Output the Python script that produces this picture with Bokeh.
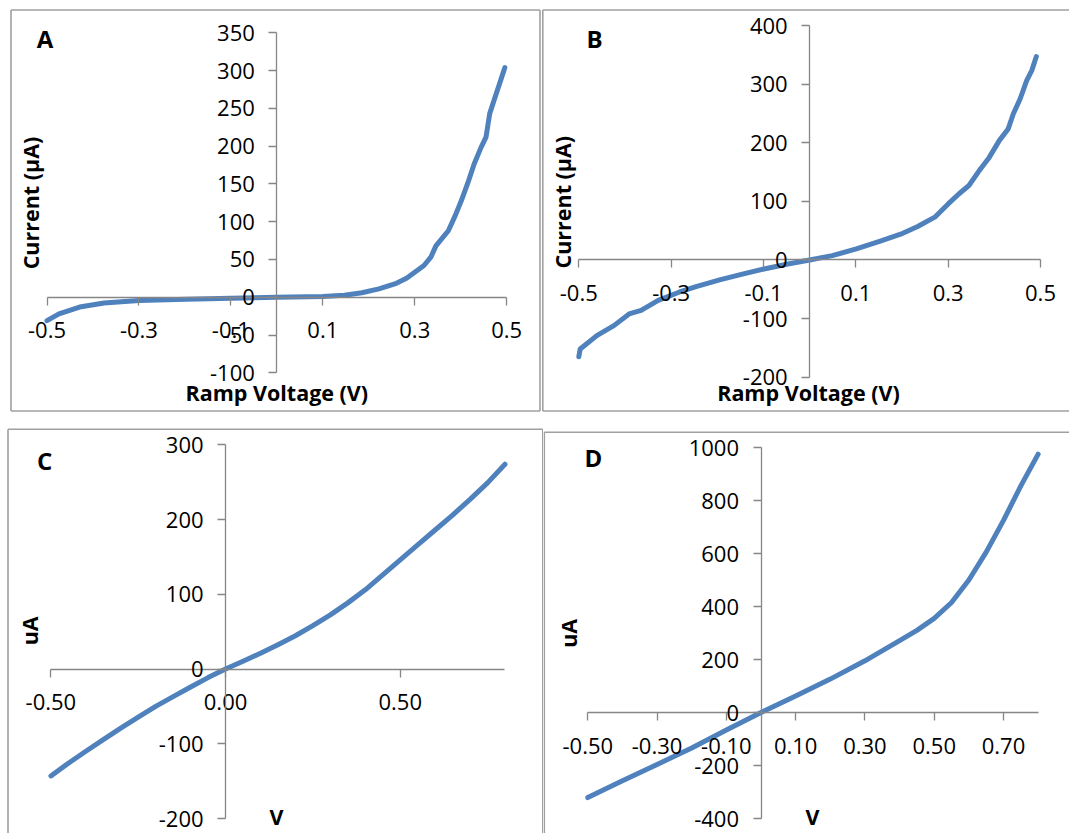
import math
from bokeh.plotting import figure
from bokeh.layouts import row, column
from bokeh.models import Range1d, FixedTicker, Label, Arrow
from bokeh.embed import file_html
from bokeh.resources import INLINE

# ---------------- data ----------------
a_voltage = [-0.50, -0.474, -0.429, -0.376, -0.30, -0.197, -0.10, 0.0, 0.10, 0.147,
             0.185, 0.222, 0.26, 0.282, 0.30, 0.32, 0.335, 0.346, 0.373, 0.388,
             0.402, 0.417, 0.429, 0.444, 0.455, 0.463, 0.477, 0.489, 0.496]
a_current = [-31, -22, -13, -7.5, -4.4, -2.6, -1.3, 0, 1, 2.6,
             6, 11, 18.5, 25, 33, 42, 53, 68, 88, 108,
             129, 154, 176, 198, 212, 243, 269, 291, 304]

b_voltage = [-0.500, -0.497, -0.461, -0.424, -0.391, -0.365, -0.328, -0.283, -0.246, -0.195,
             -0.150, -0.099, -0.047, 0.0, 0.049, 0.101, 0.153, 0.197, 0.234, 0.271,
             0.300, 0.323, 0.345, 0.367, 0.389, 0.411, 0.430, 0.441, 0.456, 0.470,
             0.481, 0.491]
b_current = [-165, -152, -129, -112, -92, -86, -69, -55, -45.5, -34,
             -25, -15.4, -6.8, 0, 7.4, 18.8, 32, 44, 57, 73,
             95.6, 112.6, 127, 152, 175, 204, 223.6, 249, 275, 306,
             323, 347]

c_voltage = [-0.50, -0.45, -0.40, -0.35, -0.30, -0.25, -0.20, -0.15, -0.10, -0.05,
             0.0, 0.05, 0.10, 0.15, 0.20, 0.25, 0.30, 0.35, 0.40, 0.45,
             0.50, 0.55, 0.60, 0.65, 0.70, 0.75, 0.80]
c_current = [-143, -126, -110, -94.5, -79, -64.5, -50, -37, -24, -11.5,
             0, 10.5, 21, 32.5, 44.5, 58, 72.5, 88.5, 106, 126,
             146, 166, 186, 206, 227, 249, 274]

d_voltage = [-0.50, -0.40, -0.30, -0.20, -0.10, 0.0, 0.10, 0.20, 0.30, 0.40,
             0.45, 0.50, 0.55, 0.60, 0.65, 0.70, 0.75, 0.80]
d_current = [-321, -258, -196, -134, -66, 0, 62, 126, 195, 271,
             310, 355, 415, 500, 605, 725, 855, 975]

# tick values and labels
ab_x_ticks = [-0.5, -0.3, -0.1, 0.1, 0.3, 0.5]
ab_x_labels = ["-0.5", "-0.3", "-0.1", "0.1", "0.3", "0.5"]
a_y_ticks = [-100, -50, 0, 50, 100, 150, 200, 250, 300, 350]
a_y_labels = ["-100", "-50", "0", "50", "100", "150", "200", "250", "300", "350"]
b_y_ticks = [-200, -100, 0, 100, 200, 300, 400]
b_y_labels = ["-200", "-100", "0", "100", "200", "300", "400"]
c_x_ticks = [-0.5, 0.0, 0.5]
c_x_labels = ["-0.50", "0.00", "0.50"]
c_y_ticks = [-200, -100, 0, 100, 200, 300]
c_y_labels = ["-200", "-100", "0", "100", "200", "300"]
d_x_ticks = [-0.5, -0.3, -0.1, 0.1, 0.3, 0.5, 0.7]
d_x_labels = ["-0.50", "-0.30", "-0.10", "0.10", "0.30", "0.50", "0.70"]
d_y_ticks = [-400, -200, 0, 200, 400, 600, 800, 1000]
d_y_labels = ["-400", "-200", "0", "200", "400", "600", "800", "1000"]

titles = ["A", "B", "C", "D"]
xtitle_ab = "Ramp Voltage (V)"
ytitle_ab = "Current (\u00b5A)"
xtitle_cd = "V"
ytitle_cd = "uA"

# ---------------- styling ----------------
LINE_COLOR = "#4F81BD"
AXIS_COLOR = "#868686"
BORDER_COLOR = "#a0a0a0"
FONT = "Open Sans"
TICK_SIZE = "22px"
TITLE_SIZE = "21.5px"
LETTER_SIZE = "24px"


def lin(v0, p0, v1, p1):
    k = (v1 - v0) / (p1 - p0)
    return lambda p: v0 + (p - p0) * k


def build(canvas, xcal, ycal, xs, ys, xt, xl, xb, yt, yl, yb,
          letter, letter_pos, ytitle, ytitle_pos, xtitle, xtitle_pos, borders):
    left, top, w, h = canvas
    fx = lin(*xcal)
    fy = lin(*ycal)
    p = figure(width=w, height=h,
               x_range=Range1d(fx(left), fx(left + w)),
               y_range=Range1d(fy(top + h), fy(top)),
               output_backend="svg", toolbar_location=None,
               min_border=0, min_border_left=0, min_border_right=0,
               min_border_top=0, min_border_bottom=0)
    p.outline_line_color = None
    p.grid.visible = False
    p.background_fill_color = "white"
    p.border_fill_color = "white"

    for ax, ticks, labels, bounds in ((p.xaxis[0], xt, xl, xb), (p.yaxis[0], yt, yl, yb)):
        ax.fixed_location = 0
        ax.ticker = FixedTicker(ticks=ticks)
        ax.major_label_overrides = {t: s for t, s in zip(ticks, labels)}
        ax.bounds = bounds
        ax.axis_line_color = AXIS_COLOR
        ax.axis_line_width = 1.3
        ax.major_tick_line_color = AXIS_COLOR
        ax.major_tick_line_width = 1.3
        ax.major_tick_out = 8
        ax.major_tick_in = 0
        ax.minor_tick_line_color = None
        ax.major_label_text_font = FONT
        ax.major_label_text_font_size = TICK_SIZE
        ax.major_label_text_color = "#000000"
    p.xaxis[0].major_label_standoff = 17
    p.yaxis[0].major_label_standoff = 14

    p.line(xs, ys, line_color=LINE_COLOR, line_width=5,
           line_cap="round", line_join="round")

    # panel frame borders (page-pixel segments converted to data space)
    for (x0, y0), (x1, y1) in borders:
        p.add_layout(Arrow(end=None, x_start=fx(x0), y_start=fy(y0),
                           x_end=fx(x1), y_end=fy(y1),
                           line_color=BORDER_COLOR, line_width=1.6))

    lx, ly = letter_pos
    p.add_layout(Label(x=fx(lx), y=fy(ly), text=letter, text_font=FONT,
                       text_font_size=LETTER_SIZE, text_font_style="bold",
                       text_align="left", text_baseline="middle",
                       text_color="#000000"))
    tx, ty = ytitle_pos
    p.add_layout(Label(x=fx(tx), y=fy(ty), text=ytitle, text_font=FONT,
                       text_font_size=TITLE_SIZE, text_font_style="bold",
                       text_align="center", text_baseline="middle",
                       angle=math.pi / 2, text_color="#000000"))
    bx, by = xtitle_pos
    p.add_layout(Label(x=fx(bx), y=fy(by), text=xtitle, text_font=FONT,
                       text_font_size=TITLE_SIZE, text_font_style="bold",
                       text_align="center", text_baseline="middle",
                       text_color="#000000"))
    return p


SH = -3  # small lift of the lower row so its lowest labels stay inside the window

pA = build((0, 0, 541, 421), (-0.5, 46.5, 0.5, 506.2), (350, 32.3, -100, 372.3),
           a_voltage, a_current, ab_x_ticks, ab_x_labels, (-0.5, 0.5),
           a_y_ticks, a_y_labels, (-100, 350),
           titles[0], (36.2, 38.0), ytitle_ab, (29.5, 202.5), xtitle_ab, (276.3, 392.0),
           borders=[((10.5, 9.5), (539.5, 9.5)), ((10.5, 410.5), (539.5, 410.5)),
                    ((10.5, 9.5), (10.5, 410.5)), ((539.5, 9.5), (539.5, 410.5))])

pB = build((541, 0, 528, 421), (-0.5, 578.3, 0.5, 1040.0), (400, 25.0, -200, 376.7),
           b_voltage, b_current, ab_x_ticks, ab_x_labels, (-0.5, 0.5),
           b_y_ticks, b_y_labels, (-200, 400),
           titles[1], (586, 37.5), ytitle_ab, (562.0, 201.7), xtitle_ab, (808, 392.0),
           borders=[((542.3, 9.5), (1090, 9.5)), ((542.3, 410.5), (1090, 410.5)),
                    ((542.3, 9.5), (542.3, 410.5))])

pC = build((0, 421, 543, 412), (-0.5, 50.4, 0.5, 399.7), (300, 447.3 + SH, -200, 821.0 + SH),
           c_voltage, c_current, c_x_ticks, c_x_labels, (-0.5, 0.8),
           c_y_ticks, c_y_labels, (-200, 300),
           titles[2], (36.5, 462.5 + SH), ytitle_cd, (28.7, 633.3 + SH), xtitle_cd, (276, 818.8 + SH),
           borders=[((7.5, 431.8 + SH), (542.3, 431.8 + SH)), ((7.5, 431.8 + SH), (7.5, 850)),
                    ((542.3, 431.8 + SH), (542.3, 850))])

pD = build((543, 421, 526, 412), (-0.5, 587.3, 0.7, 1003.0), (1000, 450.0 + SH, -400, 821.0 + SH),
           d_voltage, d_current, d_x_ticks, d_x_labels, (-0.5, 0.8),
           d_y_ticks, d_y_labels, (-400, 1000),
           titles[3], (584, 459.8 + SH), ytitle_cd, (567.5, 635.8 + SH), xtitle_cd, (812, 818.8 + SH),
           borders=[((543.8, 434.8 + SH), (1090, 434.8 + SH)), ((543.8, 434.8 + SH), (543.8, 850))])

layout = column(row(pA, pB), row(pC, pD))

with open("out.html", "w") as f:
    f.write(file_html(layout, INLINE))
